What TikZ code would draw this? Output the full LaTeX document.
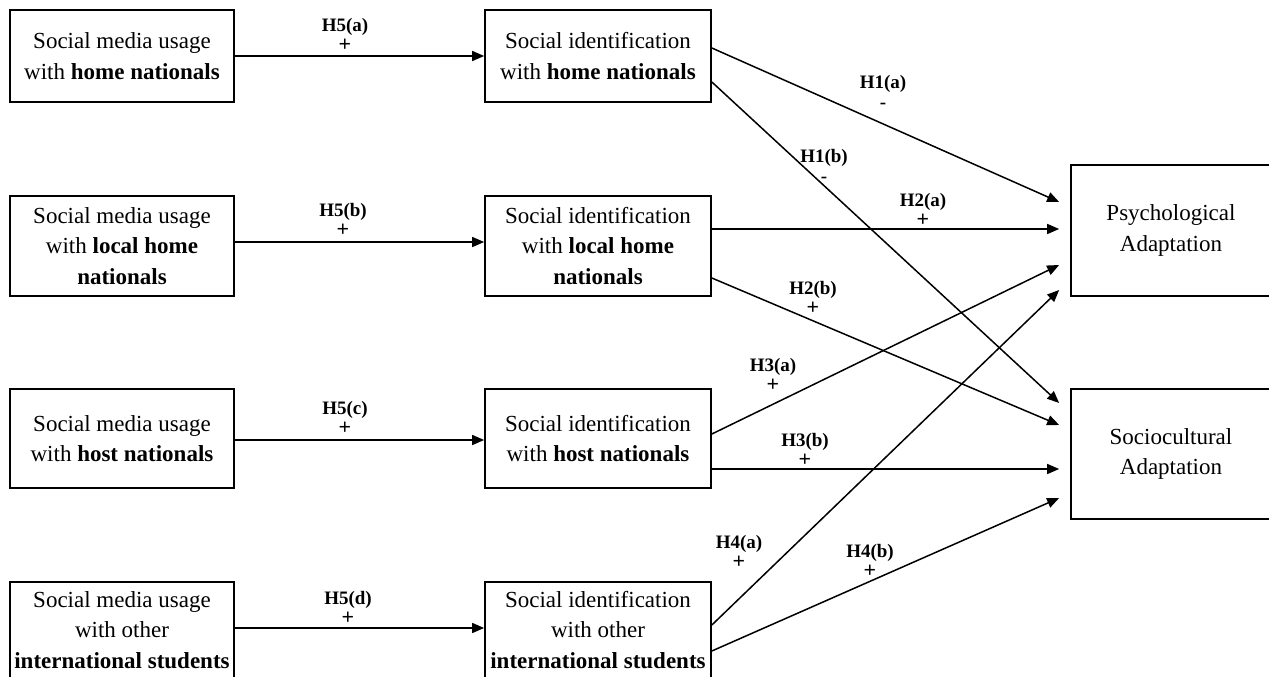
\documentclass[tikz,border=0pt]{standalone}
\usepackage{fontspec}
\setmainfont{Liberation Serif}
\usetikzlibrary{arrows.meta}
\newcommand{\plussign}{{\fontsize{22}{20}\selectfont +}}
\begin{document}
\begin{tikzpicture}[x=1pt,y=-1pt,
  box/.style={draw,line width=1.7pt,inner sep=0pt,align=center,
    font=\fontsize{23}{30.5}\selectfont},
  lbox/.style={box,minimum width=224pt},
  mbox/.style={box,minimum width=226pt},
  rbox/.style={box,minimum width=200pt},
  link/.style={line width=1.5pt,-{Triangle[length=12pt,width=10pt]}},
  hyp/.style={align=center,inner sep=0pt,
    font=\bfseries\fontsize{19}{20}\selectfont}]
\useasboundingbox (0,0) rectangle (1269,677);
\fill[white] (0,0) rectangle (1269,677);

% social media usage
\node[lbox,minimum height=92pt]  (L1) at (122,56)    {Social media usage\\with \textbf{home nationals}};
\node[lbox,minimum height=100pt] (L2) at (122,246)   {Social media usage\\with \textbf{local home}\\\textbf{nationals}};
\node[lbox,minimum height=99pt]  (L3) at (122,438.5) {Social media usage\\with \textbf{host nationals}};
\node[lbox,minimum height=96pt]  (L4) at (122,630)   {Social media usage\\with other\\\textbf{international students}};

% social identification
\node[mbox,minimum height=92pt]  (M1) at (598,56)    {Social identification\\with \textbf{home nationals}};
\node[mbox,minimum height=100pt] (M2) at (598,246)   {Social identification\\with \textbf{local home}\\\textbf{nationals}};
\node[mbox,minimum height=99pt]  (M3) at (598,438.5) {Social identification\\with \textbf{host nationals}};
\node[mbox,minimum height=96pt]  (M4) at (598,630)   {Social identification\\with other\\\textbf{international students}};

% outcomes
\node[rbox,minimum height=131pt] (P) at (1171,230.5) {Psychological\\Adaptation};
\node[rbox,minimum height=130pt] (S) at (1171,454)   {Sociocultural\\Adaptation};

% H5: usage -> identification
\draw[link] (L1.east) -- (M1.west);
\draw[link] ([yshift=4pt]L2.east) -- ([yshift=4pt]M2.west);
\draw[link] ([yshift=-1.5pt]L3.east) -- ([yshift=-1.5pt]M3.west);
\draw[link] ([yshift=2pt]L4.east) -- ([yshift=2pt]M4.west);

% H1-H4: identification -> adaptation
\draw[link] ([yshift=8pt]M1.east)     -- ([xshift=-11pt,yshift=28.5pt]P.west);
\draw[link] ([yshift=-26pt]M1.east)   -- ([xshift=-11pt,yshift=51pt]S.west);
\draw[link] ([yshift=17pt]M2.east)    -- ([xshift=-11pt,yshift=1.5pt]P.west);
\draw[link] ([yshift=-32pt]M2.east)   -- ([xshift=-11pt,yshift=29pt]S.west);
\draw[link] ([yshift=4.5pt]M3.east)   -- ([xshift=-11pt,yshift=-34.5pt]P.west);
\draw[link] ([yshift=-30.5pt]M3.east) -- ([xshift=-11pt,yshift=-15pt]S.west);
\draw[link] ([yshift=5pt]M4.east)     -- ([xshift=-11pt,yshift=-59.5pt]P.west);
\draw[link] ([yshift=-21pt]M4.east)   -- ([xshift=-11pt,yshift=-44pt]S.west);

% hypothesis labels
\node[hyp] (h5a) at (345,35)  {H5(a)\\\plussign};
\node[hyp] (h5b) at (343,220) {H5(b)\\\plussign};
\node[hyp] (h5c) at (345,418) {H5(c)\\\plussign};
\node[hyp] (h5d) at (348,608) {H5(d)\\\plussign};
\node[hyp] (h1a) at (883,92)  {H1(a)\\-};
\node[hyp] (h1b) at (824,166) {H1(b)\\-};
\node[hyp] (h2a) at (923,210) {H2(a)\\\plussign};
\node[hyp] (h2b) at (813,298) {H2(b)\\\plussign};
\node[hyp] (h3a) at (773,375) {H3(a)\\\plussign};
\node[hyp] (h3b) at (805,450) {H3(b)\\\plussign};
\node[hyp] (h4a) at (739,552) {H4(a)\\\plussign};
\node[hyp] (h4b) at (870,561) {H4(b)\\\plussign};
\end{tikzpicture}
\end{document}
